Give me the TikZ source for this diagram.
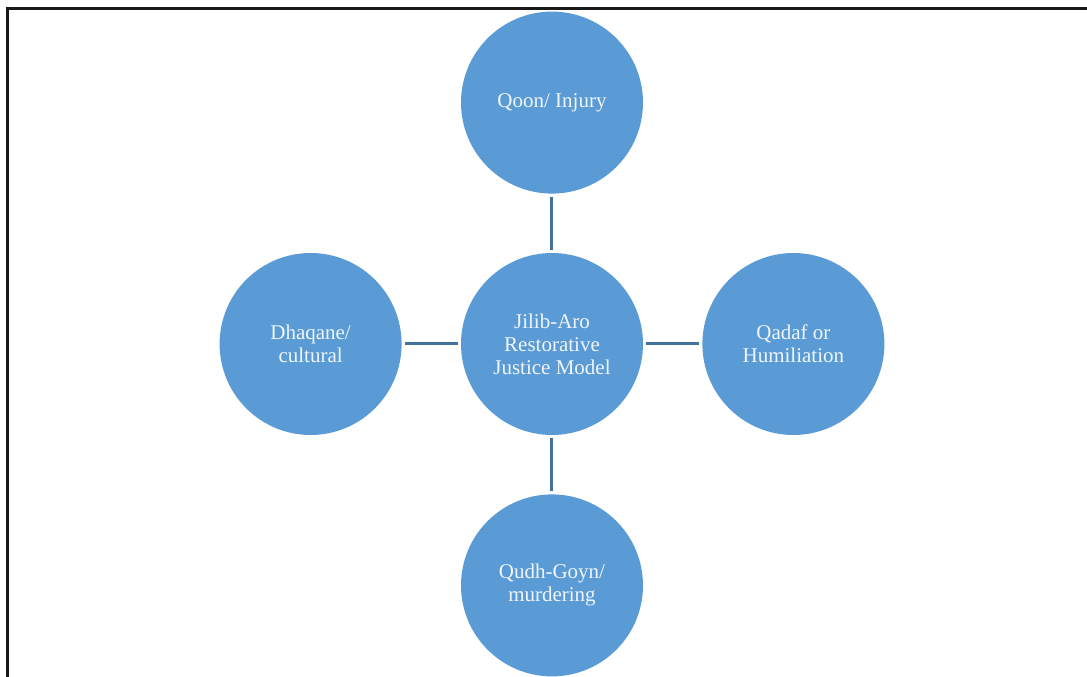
\documentclass[tikz,border=0pt]{standalone}
\usepackage{fontspec}
\setmainfont{Liberation Serif}
\usetikzlibrary{positioning}
\definecolor{circfill}{HTML}{5B9BD5}
\definecolor{linkblue}{HTML}{41719C}

\begin{document}
\begin{tikzpicture}[x=1pt, y=1pt, node distance=59pt,
	topic/.style={circle, fill=circfill, minimum size=182pt, inner sep=0pt, align=center,
		text=white!90!circfill, font=\fontsize{21}{23}\selectfont},
	link/.style={draw=linkblue, line width=3pt, shorten >=3pt, shorten <=3pt}]
	\useasboundingbox (-552,-333) rectangle (535,344);
	% open frame
	\draw[line width=3pt, black!90] (-544,-340) -- (-544,335.5) -- (540,335.5);
	\node[topic] (model) at (0,0) {Jilib-Aro\\Restorative\\Justice Model};
	\node[topic] (injury) [above=of model] {Qoon/ Injury};
	\node[topic] (cultural) [left=of model] {Dhaqane/\\cultural};
	\node[topic] (humiliation) [right=of model] {Qadaf or\\Humiliation};
	\node[topic] (murdering) [below=of model] {Qudh-Goyn/\\murdering};
	\path
		(model) edge [link] (injury)
		(model) edge [link] (cultural)
		(model) edge [link] (humiliation)
		(model) edge [link] (murdering)
	;
\end{tikzpicture}
\end{document}
